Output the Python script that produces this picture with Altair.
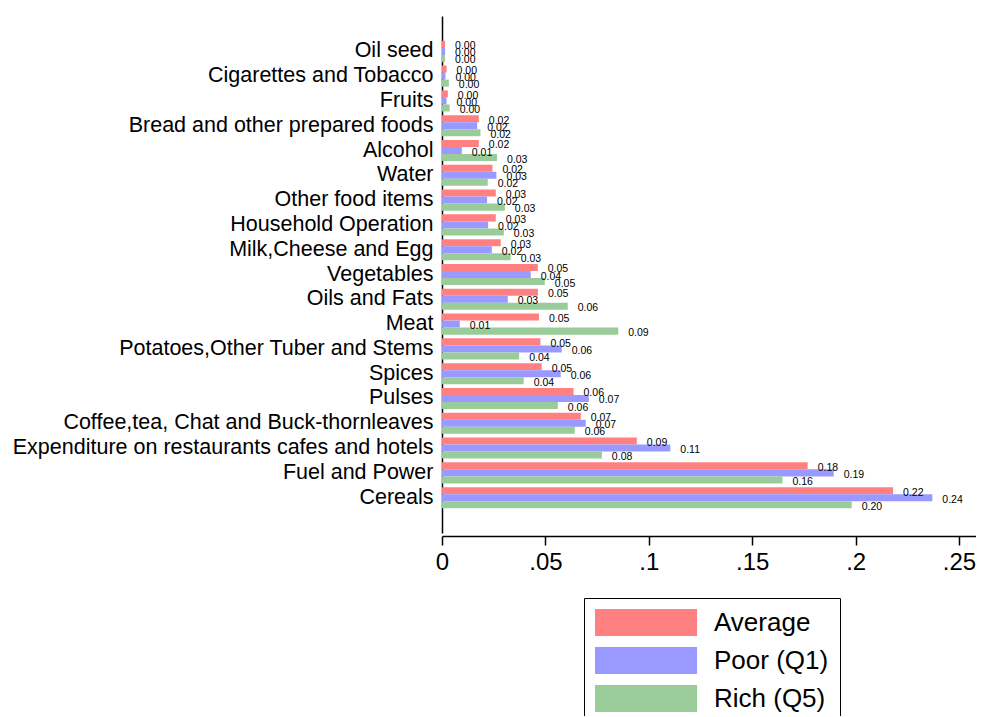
import altair as alt
import pandas as pd

categories = [
    "Oil seed", "Cigarettes and Tobacco", "Fruits", "Bread and other prepared foods",
    "Alcohol", "Water", "Other food items", "Household Operation", "Milk,Cheese and Egg",
    "Vegetables", "Oils and Fats", "Meat", "Potatoes,Other Tuber and Stems", "Spices",
    "Pulses", "Coffee,tea, Chat and Buck-thornleaves",
    "Expenditure on restaurants cafes and hotels", "Fuel and Power", "Cereals",
]
series = ["Average", "Poor (Q1)", "Rich (Q5)"]
average = [0.0015, 0.0022, 0.0028, 0.0178, 0.0178, 0.0244, 0.0260, 0.0260, 0.0284,
           0.0463, 0.0464, 0.0469, 0.0476, 0.0482, 0.0636, 0.0671, 0.0942, 0.1768, 0.2181]
poor = [0.0015, 0.0017, 0.0022, 0.0170, 0.0096, 0.0263, 0.0218, 0.0223, 0.0241,
        0.0429, 0.0318, 0.0086, 0.0579, 0.0574, 0.0710, 0.0695, 0.1104, 0.1894, 0.2371]
rich = [0.0015, 0.0033, 0.0037, 0.0186, 0.0266, 0.0221, 0.0304, 0.0299, 0.0332,
        0.0497, 0.0608, 0.0852, 0.0373, 0.0395, 0.0560, 0.0642, 0.0773, 0.1646, 0.1981]
colors = ["#FF8080", "#9999FF", "#99CC99"]
x_ticks = [0, 0.05, 0.1, 0.15, 0.2, 0.25]

rows = []
for s, vals in zip(series, [average, poor, rich]):
    for c, v in zip(categories, vals):
        rows.append({"category": c, "series": s, "value": v})
df = pd.DataFrame(rows)

FONT = "Liberation Sans"

y_enc = alt.Y("category:N", sort=categories, title=None,
              scale=alt.Scale(paddingInner=0.15, paddingOuter=1, range=[4, 521]),
              axis=alt.Axis(ticks=False, labelFontSize=21.5, labelFont=FONT,
                            labelColor="black", labelPadding=9, labelLimit=1000,
                            domainColor="black", domainWidth=1.5))
yoff = alt.YOffset("series:N", sort=series, scale=alt.Scale(paddingInner=0, paddingOuter=0))
x_enc = alt.X("value:Q", title=None,
              scale=alt.Scale(domain=[0, 0.2582], nice=False, zero=True),
              axis=alt.Axis(values=x_ticks, grid=False, tickSize=9, tickWidth=1.5,
                            tickColor="black", domainColor="black", domainWidth=1.5,
                            labelFontSize=24, labelFont=FONT, labelColor="black",
                            labelPadding=5, labelFlush=False,
                            labelExpr="datum.value == 0 ? '0' : substring(format(datum.value, '~g'), 1)"))

bars = alt.Chart(df).mark_bar(opacity=1).encode(
    y=y_enc, yOffset=yoff, x=x_enc,
    color=alt.Color("series:N", sort=series,
                    scale=alt.Scale(domain=series, range=colors),
                    legend=alt.Legend(title=None, orient="none", legendX=142, legendY=586,
                                      symbolType="M-1,-1H6.56V1H-1Z", symbolSize=729,
                                      symbolStrokeWidth=0, symbolOpacity=1,
                                      labelFontSize=26, labelFont=FONT, labelColor="black",
                                      labelOffset=92, rowPadding=11, padding=11,
                                      strokeColor="black", fillColor="white")),
)

labels = alt.Chart(df).mark_text(align="left", baseline="middle", dx=10, dy=2,
                                 fontSize=10.5, font=FONT, color="black").encode(
    y=alt.Y("category:N", sort=categories), yOffset=alt.YOffset("series:N", sort=series),
    x="value:Q", text=alt.Text("value:Q", format=".2f"),
)

chart = alt.layer(bars, labels).properties(
    width=534, height=524,
    autosize=alt.AutoSizeParams(type="none"),
    padding={"left": 434, "top": 4, "right": 0, "bottom": 180},
).configure_view(stroke=None)

chart.save("out.html", embed_options={"renderer": "svg", "actions": False})
